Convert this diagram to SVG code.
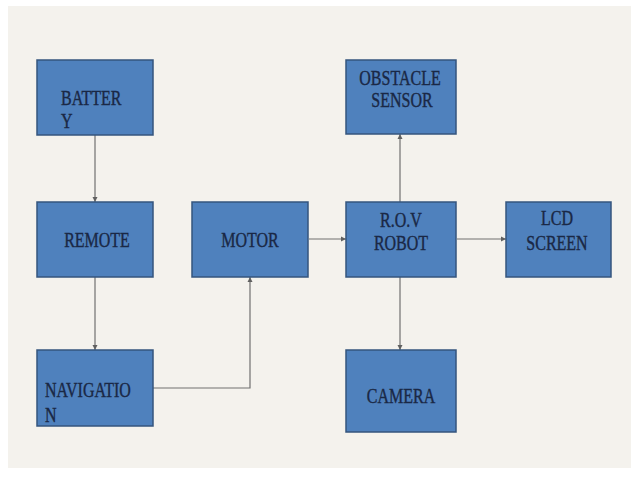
<svg xmlns="http://www.w3.org/2000/svg" width="631" height="478" viewBox="0 0 631 478">
<style>
.box{fill:#4f81bd;stroke:#34557e;stroke-width:1.5}
.t{font-family:'Liberation Serif','DejaVu Serif',serif;font-size:16px;fill:#1a2845;stroke:#1a2845;stroke-width:0.3}
.c{text-anchor:middle}
.con{fill:none;stroke:#707070;stroke-width:1.2}
</style>
<defs>
<marker id="ah" markerWidth="6" markerHeight="6" refX="5" refY="3" orient="auto" markerUnits="userSpaceOnUse">
<path d="M0,0.5 L5,3 L0,5.5 z" fill="#606060"/>
</marker>
</defs>
<rect x="0" y="0" width="631" height="478" fill="#ffffff"/>
<rect x="8" y="6" width="623" height="462" fill="#f4f2ed"/>
<g id="connectors">
<line class="con" x1="95" y1="135" x2="95" y2="202" marker-end="url(#ah)"/>
<line class="con" x1="95" y1="277" x2="95" y2="350" marker-end="url(#ah)"/>
<polyline class="con" points="153,388 250,388 250,277" marker-end="url(#ah)"/>
<line class="con" x1="309" y1="239" x2="346" y2="239" marker-end="url(#ah)"/>
<line class="con" x1="400" y1="202" x2="400" y2="134" marker-end="url(#ah)"/>
<line class="con" x1="457" y1="239" x2="506" y2="239" marker-end="url(#ah)"/>
<line class="con" x1="400" y1="277" x2="400" y2="350" marker-end="url(#ah)"/>
</g>
<g id="battery">
<rect class="box" x="37" y="60" width="116" height="75"/>
<text class="t" font-family="Liberation Serif" transform="translate(61,105) scale(1,1.35)">BATTER</text>
<text class="t" font-family="Liberation Serif" transform="translate(61,128) scale(1,1.35)">Y</text>
</g>
<g id="remote">
<rect class="box" x="37" y="202" width="116" height="75"/>
<text class="t c" font-family="Liberation Serif" transform="translate(97,247) scale(1,1.35)">REMOTE</text>
</g>
<g id="navigation">
<rect class="box" x="37" y="350" width="116" height="76"/>
<text class="t" font-family="Liberation Serif" transform="translate(45,397) scale(1,1.35)">NAVIGATIO</text>
<text class="t" font-family="Liberation Serif" transform="translate(45,422) scale(1,1.35)">N</text>
</g>
<g id="motor">
<rect class="box" x="192" y="202" width="116" height="75"/>
<text class="t c" font-family="Liberation Serif" transform="translate(250,247) scale(1,1.35)">MOTOR</text>
</g>
<g id="robot">
<rect class="box" x="346" y="202" width="110" height="75"/>
<text class="t c" font-family="Liberation Serif" transform="translate(401,227) scale(1,1.35)">R.O.V</text>
<text class="t c" font-family="Liberation Serif" transform="translate(401,250) scale(1,1.35)">ROBOT</text>
</g>
<g id="obstacle">
<rect class="box" x="346" y="60" width="110" height="74"/>
<text class="t c" font-family="Liberation Serif" transform="translate(400,85) scale(1,1.35)">OBSTACLE</text>
<text class="t c" font-family="Liberation Serif" transform="translate(402,107) scale(1,1.35)">SENSOR</text>
</g>
<g id="lcd">
<rect class="box" x="506" y="202" width="105" height="75"/>
<text class="t c" font-family="Liberation Serif" transform="translate(557,225) scale(1,1.35)">LCD</text>
<text class="t c" font-family="Liberation Serif" transform="translate(557,250) scale(1,1.35)">SCREEN</text>
</g>
<g id="camera">
<rect class="box" x="346" y="350" width="110" height="82"/>
<text class="t c" font-family="Liberation Serif" transform="translate(401,403) scale(1,1.35)">CAMERA</text>
</g>
</svg>
